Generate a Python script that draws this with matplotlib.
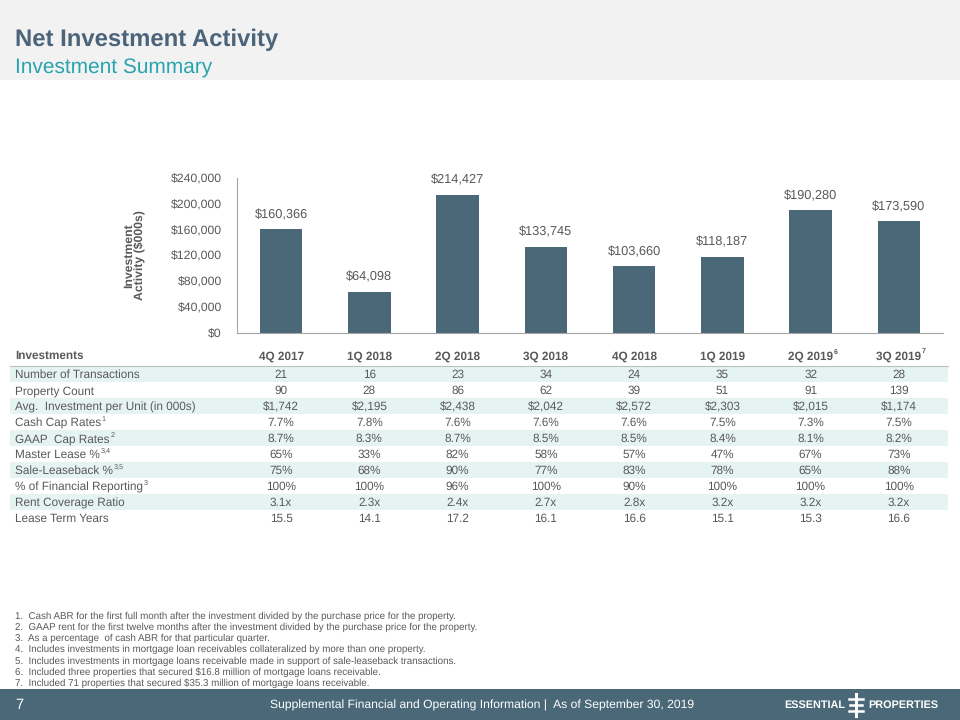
import matplotlib
matplotlib.use('Agg')
import matplotlib.pyplot as plt
from matplotlib.patches import Rectangle
import matplotlib.transforms as mtransforms

plt.rcParams['font.family'] = ['Liberation Sans', 'DejaVu Sans']
plt.rcParams['text.hinting'] = 'no_hinting'

# Data
quarters = ['4Q 2017', '1Q 2018', '2Q 2018', '3Q 2018', '4Q 2018', '1Q 2019', '2Q 2019', '3Q 2019']
quarter_notes = ['', '', '', '', '', '', '6', '7']
investment = [160366, 64098, 214427, 133745, 103660, 118187, 190280, 173590]

row_labels = ['Number of Transactions', 'Property Count', 'Avg.  Investment per Unit (in 000s)',
              'Cash Cap Rates', 'GAAP  Cap Rates', 'Master Lease %', 'Sale-Leaseback %',
              '% of Financial Reporting', 'Rent Coverage Ratio', 'Lease Term Years']
row_notes = ['', '', '', '1', '2', '3,4', '3,5', '3', '', '']
transactions = ['21', '16', '23', '34', '24', '35', '32', '28']
property_count = ['90', '28', '86', '62', '39', '51', '91', '139']
avg_investment = ['$1,742', '$2,195', '$2,438', '$2,042', '$2,572', '$2,303', '$2,015', '$1,174']
cash_cap = ['7.7%', '7.8%', '7.6%', '7.6%', '7.6%', '7.5%', '7.3%', '7.5%']
gaap_cap = ['8.7%', '8.3%', '8.7%', '8.5%', '8.5%', '8.4%', '8.1%', '8.2%']
master_lease = ['65%', '33%', '82%', '58%', '57%', '47%', '67%', '73%']
sale_leaseback = ['75%', '68%', '90%', '77%', '83%', '78%', '65%', '88%']
fin_reporting = ['100%', '100%', '96%', '100%', '90%', '100%', '100%', '100%']
rent_coverage = ['3.1x', '2.3x', '2.4x', '2.7x', '2.8x', '3.2x', '3.2x', '3.2x']
lease_term = ['15.5', '14.1', '17.2', '16.1', '16.6', '15.1', '15.3', '16.6']
table_rows = [transactions, property_count, avg_investment, cash_cap, gaap_cap,
              master_lease, sale_leaseback, fin_reporting, rent_coverage, lease_term]

footnotes = [
    'Cash ABR for the first full month after the investment divided by the purchase price for the property.',
    'GAAP rent for the first twelve months after the investment divided by the purchase price for the property.',
    'As a percentage  of cash ABR for that particular quarter.',
    'Includes investments in mortgage loan receivables collateralized by more than one property.',
    'Includes investments in mortgage loans receivable made in support of sale-leaseback transactions.',
    'Included three properties that secured $16.8 million of mortgage loans receivable.',
    'Included 71 properties that secured $35.3 million of mortgage loans receivable.',
]

# Colors
title_color = '#4b6479'
sub_color = '#29a4ae'
bar_color = '#4a6878'
grey = '#595959'
band_color = '#e6f3f3'

fig = plt.figure(figsize=(9.6, 7.2), dpi=100)
W, H = 960.0, 720.0

# Header band
fig.patches.append(Rectangle((0, 1 - 80 / H), 1, 80 / H, transform=fig.transFigure,
                             facecolor='#f2f2f2', edgecolor='none', zorder=0))
fig.text(15 / W, 1 - 40 / H, 'Net Investment Activity', fontsize=17.2, fontweight='bold',
         color=title_color, va='center', ha='left')
fig.text(15 / W, 1 - 68 / H, 'Investment Summary', fontsize=15, color=sub_color,
         va='center', ha='left')

# Bar chart
ax = fig.add_axes([237 / W, 1 - 333 / H, 706 / W, 155 / H])
x = range(len(quarters))
bars = ax.bar(x, investment, width=0.48, color=bar_color)
ax.set_xlim(-0.5, len(quarters) - 0.5)
ax.set_ylim(0, 240000)
ax.set_yticks(range(0, 240001, 40000))
ax.set_yticklabels(['${:,}'.format(v) for v in range(0, 240001, 40000)], fontsize=8.8, color=grey)
ax.tick_params(axis='y', length=0, pad=11)
ax.set_xticks([])
for s in ['top', 'right']:
    ax.spines[s].set_visible(False)
ax.spines['left'].set_color('#a6a6a6')
ax.spines['bottom'].set_color('#a6a6a6')
for b, v in zip(bars, investment):
    ax.annotate('${:,}'.format(v), (b.get_x() + b.get_width() / 2, v), xytext=(0, 6),
                textcoords='offset points', ha='center', va='bottom', fontsize=9.2, color=grey)
ax.set_ylabel('Investment\nActivity ($000s)', fontsize=8.8, fontweight='bold', color=grey,
              linespacing=1.0, labelpad=18)

# Table
row_h = 16.0
top_px = 374 - 1.9 * row_h
bot_px = 374 + 9.5 * row_h
tax = fig.add_axes([237 / W, 1 - bot_px / H, 706 / W, (bot_px - top_px) / H])
tax.set_xlim(-0.5, len(quarters) - 0.5)
tax.set_ylim(9.5, -1.9)
tax.axis('off')
trans = mtransforms.blended_transform_factory(tax.transAxes, tax.transData)
lab_x = (15 - 237) / 706.0
band_x0 = (10 - 237) / 706.0
band_x1 = (948 - 237) / 706.0

for i in range(0, len(row_labels), 2):
    tax.add_patch(Rectangle((band_x0, i - 0.5), band_x1 - band_x0, 1, transform=trans,
                            facecolor=band_color, edgecolor='none', clip_on=False, zorder=0))
tax.plot([band_x0, band_x1], [-0.5, -0.5], transform=trans, color='#bfbfbf', lw=0.8,
         clip_on=False)

hy = -1.2
tax.text(lab_x, hy, 'Investments', transform=trans, fontsize=8.5, fontweight='bold', color=grey,
         ha='left', va='center_baseline')
for j, (q, n) in enumerate(zip(quarters, quarter_notes)):
    t = tax.text(j, hy, q, fontsize=8.5, fontweight='bold', color=grey, ha='center',
                 va='center_baseline')
    if n:
        tax.annotate(n, xy=(1, 1), xycoords=t, xytext=(0.5, 1.5), textcoords='offset points',
                     fontsize=5, fontweight='bold', color=grey, ha='left', va='top')

for i, (lab, n) in enumerate(zip(row_labels, row_notes)):
    t = tax.text(lab_x, i, lab, transform=trans, fontsize=8.5, color=grey, ha='left',
                 va='center_baseline')
    if n:
        tax.annotate(n, xy=(1, 1), xycoords=t, xytext=(0.5, 1), textcoords='offset points',
                     fontsize=5.2, color=grey, ha='left', va='top')
    for j, val in enumerate(table_rows[i]):
        tax.text(j, i, val, fontsize=8.5, color=grey, ha='center', va='center_baseline')

# Footnotes
for k, note in enumerate(footnotes):
    y = 1 - (615 + 11.2 * k) / H
    fig.text(15 / W, y, '{}.  {}'.format(k + 1, note), fontsize=7.0, color=grey,
             va='center_baseline', ha='left')

# Footer band
fig.patches.append(Rectangle((0, 0), 1, 31 / H, transform=fig.transFigure,
                             facecolor=bar_color, edgecolor='none', zorder=0))
fig.text(15 / W, 15 / H, '7', fontsize=10.5, color='white', va='center', ha='left')
fig.text(270 / W, 15 / H, 'Supplemental Financial and Operating Information |  As of September 30, 2019',
         fontsize=8.7, color='white', va='center', ha='left')
fig.text(845 / W, 15 / H, 'ESSENTIAL', fontsize=7.8, fontweight='bold', color='white',
         va='center', ha='right')
fig.text(868 / W, 15 / H, 'PROPERTIES', fontsize=7.8, fontweight='bold', color='white',
         va='center', ha='left')
# logo mark
fig.add_artist(plt.Line2D([856 / W, 856 / W], [4 / H, 26 / H], color='white', lw=2.2))
for yy, x0, x1 in [(21, 849, 863), (15, 850, 862), (9, 849, 863)]:
    fig.add_artist(plt.Line2D([x0 / W, x1 / W], [yy / H, yy / H], color='white', lw=1.8))

fig.savefig('out.png', dpi=100)
